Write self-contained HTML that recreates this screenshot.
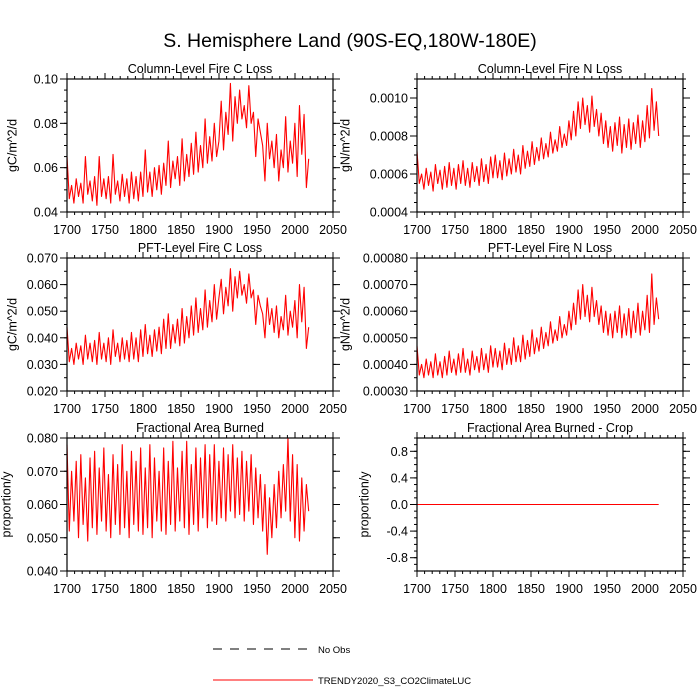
<!DOCTYPE html>
<html><head><meta charset="utf-8"><style>
html,body{margin:0;padding:0;background:#fff}
svg{display:block;font-family:"Liberation Sans",sans-serif}
</style></head><body>
<svg id="c" width="700" height="700" viewBox="0 0 700 700">
<rect width="700" height="700" fill="#fff"/>
<text x="350" y="47" text-anchor="middle" font-size="19.5">S. Hemisphere Land (90S-EQ,180W-180E)</text>
<g>
<line x1="213" y1="649" x2="313" y2="649" stroke="#000" stroke-width="1" stroke-dasharray="9,8"/>
<text x="318" y="653" font-size="9.5">No Obs</text>
<line x1="213" y1="680" x2="313" y2="680" stroke="#f00" stroke-width="1"/>
<text x="318" y="684" font-size="9.5">TRENDY2020_S3_CO2ClimateLUC</text>
</g>
</svg>
<script>
const xTicks=[1700,1750,1800,1850,1900,1950,2000,2050];
const colC=[0.065,0.046,0.052,0.044,0.055,0.047,0.053,0.044,0.065,0.048,0.054,0.045,0.056,0.043,0.065,0.047,0.055,0.046,0.056,0.044,0.066,0.048,0.054,0.045,0.057,0.047,0.055,0.044,0.058,0.046,0.056,0.045,0.058,0.047,
0.068,0.049,0.058,0.047,0.060,0.050,0.061,0.048,0.062,0.052,0.072,0.051,0.063,0.055,0.065,0.052,0.073,0.054,0.066,0.056,0.071,0.057,0.076,0.058,0.070,0.060,0.082,0.062,0.074,0.063,0.080,0.065,0.072,
0.090,0.068,0.085,0.075,0.098,0.072,0.092,0.080,0.095,0.082,0.088,0.078,0.097,0.080,0.085,0.065,0.082,0.076,0.070,0.054,0.080,0.064,0.072,0.060,0.075,0.054,0.068,0.060,0.083,0.058,0.072,0.062,0.080,
0.056,0.088,0.066,0.084,0.051,0.064];
const colN=[0.00072,0.00055,0.00060,0.00052,0.00063,0.00054,0.00061,0.00051,0.00065,0.00055,0.00062,0.00052,0.00064,0.00053,0.00066,0.00054,0.00063,0.00052,0.00065,0.00055,0.00067,0.00054,0.00063,0.00053,0.00066,0.00056,0.00064,0.00054,0.00068,0.00056,0.00065,0.00055,0.00069,0.00058,
0.00070,0.00058,0.00067,0.00057,0.00071,0.00059,0.00068,0.00060,0.00073,0.00061,0.00070,0.00060,0.00075,0.00063,0.00072,0.00064,0.00077,0.00065,0.00074,0.00067,0.00079,0.00068,0.00076,0.00069,0.00082,0.00071,0.00078,0.00072,0.00085,0.00074,0.00081,0.00075,0.00088,
0.00078,0.00093,0.00080,0.00098,0.00084,0.00100,0.00086,0.00096,0.00082,0.00101,0.00085,0.00094,0.00080,0.00092,0.00076,0.00088,0.00074,0.00085,0.00072,0.00087,0.00075,0.00090,0.00071,0.00086,0.00074,0.00089,0.00073,0.00087,0.00076,0.00091,0.00074,0.00088,0.00077,
0.00096,0.00079,0.00105,0.00083,0.00098,0.00080];
const pftC=[0.044,0.031,0.036,0.030,0.038,0.032,0.037,0.030,0.041,0.032,0.038,0.031,0.039,0.030,0.042,0.032,0.038,0.031,0.040,0.030,0.043,0.033,0.038,0.031,0.040,0.032,0.039,0.031,0.042,0.032,0.040,0.031,0.043,0.033,
0.045,0.034,0.041,0.033,0.043,0.035,0.044,0.034,0.047,0.036,0.049,0.036,0.045,0.038,0.047,0.037,0.051,0.038,0.048,0.040,0.052,0.041,0.055,0.042,0.051,0.043,0.058,0.044,0.054,0.046,0.060,0.047,0.055,
0.062,0.049,0.059,0.052,0.066,0.050,0.063,0.055,0.065,0.056,0.060,0.053,0.064,0.055,0.058,0.045,0.056,0.052,0.049,0.040,0.055,0.045,0.051,0.042,0.052,0.040,0.048,0.043,0.056,0.041,0.050,0.044,0.054,
0.040,0.060,0.046,0.059,0.036,0.044];
const pftN=[0.00047,0.00036,0.00040,0.00035,0.00042,0.00036,0.00041,0.00035,0.00044,0.00036,0.00041,0.00035,0.00043,0.00036,0.00045,0.00037,0.00042,0.00036,0.00044,0.00037,0.00046,0.00037,0.00042,0.00036,0.00045,0.00038,0.00043,0.00037,0.00046,0.00038,0.00044,0.00037,0.00047,0.00039,
0.00046,0.00039,0.00045,0.00038,0.00048,0.00040,0.00046,0.00040,0.00050,0.00041,0.00047,0.00041,0.00051,0.00042,0.00049,0.00043,0.00053,0.00044,0.00050,0.00045,0.00054,0.00046,0.00052,0.00047,0.00056,0.00048,0.00053,0.00049,0.00058,0.00050,0.00055,0.00051,0.00060,
0.00053,0.00063,0.00055,0.00068,0.00057,0.00070,0.00058,0.00066,0.00056,0.00069,0.00058,0.00064,0.00055,0.00062,0.00052,0.00060,0.00051,0.00059,0.00050,0.00060,0.00052,0.00062,0.00050,0.00059,0.00051,0.00061,0.00050,0.00060,0.00052,0.00063,0.00051,0.00060,0.00053,
0.00066,0.00052,0.00074,0.00055,0.00065,0.00057];
const fab=[0.078,0.052,0.070,0.055,0.073,0.050,0.075,0.054,0.068,0.049,0.074,0.053,0.076,0.051,0.071,0.055,0.077,0.052,0.069,0.050,0.075,0.054,0.072,0.051,0.078,0.053,0.070,0.050,0.076,0.054,0.073,0.052,0.077,0.051,
0.071,0.053,0.078,0.050,0.074,0.055,0.070,0.052,0.077,0.051,0.073,0.054,0.079,0.052,0.071,0.055,0.076,0.053,0.079,0.051,0.072,0.054,0.077,0.052,0.074,0.056,0.078,0.053,0.075,0.055,0.078,0.054,0.073,
0.056,0.077,0.055,0.075,0.058,0.078,0.056,0.074,0.057,0.076,0.055,0.073,0.058,0.075,0.054,0.071,0.056,0.069,0.052,0.066,0.045,0.062,0.050,0.066,0.053,0.070,0.056,0.072,0.058,0.080,0.055,0.075,0.050,
0.072,0.049,0.068,0.052,0.066,0.058];
const fabCrop=[0,0];
const startYear=1700, endYear=2018;

const panels=[
 {name:'column-fire-c-loss',title:'Column-Level Fire C Loss',ylab:'gC/m^2/d',x0:67,y0:79,ymin:0.04,ymax:0.10,ticks:[0.04,0.06,0.08,0.10],dec:2,minor:0.005,data:colC,ytx:12},
 {name:'column-fire-n-loss',title:'Column-Level Fire N Loss',ylab:'gN/m^2/d',x0:417,y0:79,ymin:0.0004,ymax:0.0011,ticks:[0.0004,0.0006,0.0008,0.0010],dec:4,minor:0.00005,data:colN,ytx:345},
 {name:'pft-fire-c-loss',title:'PFT-Level Fire C Loss',ylab:'gC/m^2/d',x0:67,y0:258,ymin:0.02,ymax:0.07,ticks:[0.02,0.03,0.04,0.05,0.06,0.07],dec:3,minor:0.005,data:pftC,ytx:12},
 {name:'pft-fire-n-loss',title:'PFT-Level Fire N Loss',ylab:'gN/m^2/d',x0:417,y0:258,ymin:0.0003,ymax:0.0008,ticks:[0.0003,0.0004,0.0005,0.0006,0.0007,0.0008],dec:5,minor:0.00005,data:pftN,ytx:345},
 {name:'fractional-area-burned',title:'Fractional Area Burned',ylab:'proportion/y',x0:67,y0:438,ymin:0.04,ymax:0.08,ticks:[0.04,0.05,0.06,0.07,0.08],dec:3,minor:0.005,data:fab,ytx:6},
 {name:'fractional-area-burned-crop',title:'Fractional Area Burned - Crop',ylab:'proportion/y',x0:417,y0:438,ymin:-1,ymax:1,ticks:[-0.8,-0.4,0,0.4,0.8],dec:1,minor:0.1,data:fabCrop,ytx:364}
];
const W=266,H=133,NS='http://www.w3.org/2000/svg';
const svg=document.getElementById('c');
function mk(t,a,p){const e=document.createElementNS(NS,t);for(const k in a)e.setAttribute(k,a[k]);(p||svg).appendChild(e);return e;}
panels.forEach(P=>{
 const g=mk('g',{});
 
 
 const xs=v=>P.x0+(v-1700)/(2050-1700)*W;
 const ys=v=>P.y0+H-(v-P.ymin)/(P.ymax-P.ymin)*H;
 const t=mk('text',{x:P.x0+W/2,y:P.y0-6,'text-anchor':'middle','font-size':12.5},g);t.textContent=P.title;
 
 
 const yl=mk('text',{x:0,y:0,'text-anchor':'middle','font-size':12.5,transform:`translate(${P.ytx},${P.y0+H/2}) rotate(-90)`},g);
 yl.setAttribute('dy','0.35em');
 yl.textContent=P.ylab;
 
 
 for(let y=1700;y<=2050;y+=10){
  const x=xs(y),maj=(y%50===0),L=maj?6:3;
  mk('line',{x1:x,x2:x,y1:P.y0+H,y2:P.y0+H+L,stroke:'#000','stroke-width':1},g);
  mk('line',{x1:x,x2:x,y1:P.y0,y2:P.y0-L,stroke:'#000','stroke-width':1},g);
 }
 xTicks.forEach(y=>{const tx=mk('text',{x:xs(y),y:P.y0+H+22,'text-anchor':'middle','font-size':12.5},g);tx.textContent=y;
  
  });
 const nmin=Math.round((P.ymax-P.ymin)/P.minor);
 for(let i=0;i<=nmin;i++){const v=P.ymin+i*P.minor,y=ys(v);
  mk('line',{x1:P.x0,x2:P.x0-3,y1:y,y2:y,stroke:'#000','stroke-width':1},g);
  mk('line',{x1:P.x0+W,x2:P.x0+W+3,y1:y,y2:y,stroke:'#000','stroke-width':1},g);}
 P.ticks.forEach(v=>{const y=ys(v);
  mk('line',{x1:P.x0,x2:P.x0-7,y1:y,y2:y,stroke:'#000','stroke-width':1},g);
  mk('line',{x1:P.x0+W,x2:P.x0+W+7,y1:y,y2:y,stroke:'#000','stroke-width':1},g);
  const tx=mk('text',{x:P.x0-9,y:y+4.5,'text-anchor':'end','font-size':12.5},g);tx.textContent=v.toFixed(P.dec);
  
  });
 const n=P.data.length;
 const pts=P.data.map((v,i)=>xs(startYear+i*(endYear-startYear)/(n-1)).toFixed(2)+','+ys(v).toFixed(2)).join(' ');
 const pl=mk('polyline',{points:pts,fill:'none',stroke:'#f00','stroke-width':1.1,'stroke-linejoin':'round'},g);
 
 
 const fr=mk('rect',{x:P.x0,y:P.y0,width:W,height:H,fill:'none',stroke:'#000','stroke-width':1.2},g);
 
 
});
</script>
</body></html>
